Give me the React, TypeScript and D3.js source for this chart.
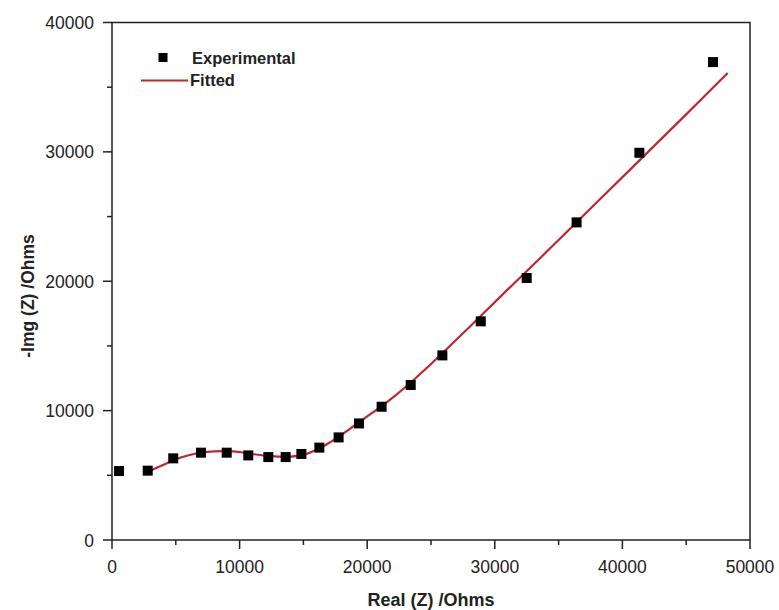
import React from "react";
import * as d3 from "d3";

const expX = [550, 2800, 4800, 6975, 8990, 10680, 12250, 13610, 14840, 16250, 17760, 19360, 21130, 23410, 25890, 28900, 32500, 36410, 41330, 47100];
const expY = [5330, 5360, 6310, 6750, 6750, 6540, 6410, 6410, 6650, 7140, 7930, 9010, 10300, 11980, 14270, 16900, 20250, 24550, 29930, 36940];

const fitX = [3000, 4000, 5000, 6000, 7000, 8000, 9000, 10000, 11000, 12000, 13000, 14000, 15000, 16000, 17000, 18000, 19000, 20000, 21000, 22000, 23500, 25000, 28000, 31000, 34500, 38000, 41500, 45000, 48250];
const fitY = [5350, 5800, 6250, 6550, 6750, 6850, 6870, 6800, 6650, 6520, 6450, 6450, 6580, 6950, 7500, 8150, 8850, 9550, 10250, 11000, 12250, 13600, 16450, 19350, 22700, 26100, 29500, 32900, 36100];

const xTicks = [0, 10000, 20000, 30000, 40000, 50000];
const yTicks = [0, 10000, 20000, 30000, 40000];
const xMinor = [5000, 15000, 25000, 35000, 45000];
const yMinor = [5000, 15000, 25000, 35000];

const W = 779, H = 610;
const L = 112, R = 750, T = 22.5, B = 540;
const RED = "#c0272d";
const FONT = "'Liberation Sans', Arial, sans-serif";

export default function App() {
  const x = d3.scaleLinear().domain([0, 50000]).range([L, R]);
  const y = d3.scaleLinear().domain([0, 40000]).range([B, T]);
  const line = d3.line<[number, number]>().x(d => x(d[0])).y(d => y(d[1])).curve(d3.curveCatmullRom.alpha(0.5));
  const fitPts: [number, number][] = fitX.map((v, i) => [v, fitY[i]]);
  return (
    <svg width={W} height={H} style={{ position: "absolute", left: 0, top: 0, background: "#fff" }}>
      <rect x={0} y={0} width={W} height={H} fill="#fff" />
      <rect x={L} y={T} width={R - L} height={B - T} fill="none" stroke="#222" strokeWidth={1.5} />
      {xTicks.map(t => (
        <g key={"xt" + t}>
          <line x1={x(t)} x2={x(t)} y1={B} y2={B + 9} stroke="#222" strokeWidth={1.5} />
          <text x={x(t)} y={B + 33} textAnchor="middle" fontFamily={FONT} fontSize={17.5} fill="#222">{t}</text>
        </g>
      ))}
      {xMinor.map(t => (
        <line key={"xm" + t} x1={x(t)} x2={x(t)} y1={B} y2={B + 5} stroke="#222" strokeWidth={1.5} />
      ))}
      {yTicks.map(t => (
        <g key={"yt" + t}>
          <line x1={L - 9} x2={L} y1={y(t)} y2={y(t)} stroke="#222" strokeWidth={1.5} />
          <text x={L - 18} y={y(t) + 6.5} textAnchor="end" fontFamily={FONT} fontSize={17.5} fill="#222">{t}</text>
        </g>
      ))}
      {yMinor.map(t => (
        <line key={"ym" + t} x1={L - 5} x2={L} y1={y(t)} y2={y(t)} stroke="#222" strokeWidth={1.5} />
      ))}
      <path d={line(fitPts) || ""} fill="none" stroke={RED} strokeWidth={2.2} />
      {expX.map((v, i) => (
        <rect key={"p" + i} x={x(v) - 5} y={y(expY[i]) - 5} width={10} height={10} fill="#000" />
      ))}
      <rect x={158.5} y={53} width={9} height={9} fill="#000" />
      <text x={192} y={64} fontFamily={FONT} fontSize={16.5} fontWeight="bold" fill="#222">Experimental</text>
      <line x1={141} x2={188} y1={80.5} y2={80.5} stroke={RED} strokeWidth={2.2} />
      <text x={190} y={85.5} fontFamily={FONT} fontSize={16.5} fontWeight="bold" fill="#222">Fitted</text>
      <text x={431} y={606} textAnchor="middle" fontFamily={FONT} fontSize={18} fontWeight="bold" fill="#222">Real (Z) /Ohms</text>
      <text transform={`translate(34,296) rotate(-90)`} textAnchor="middle" fontFamily={FONT} fontSize={17.5} fontWeight="bold" fill="#222">-Img (Z) /Ohms</text>
    </svg>
  );
}
